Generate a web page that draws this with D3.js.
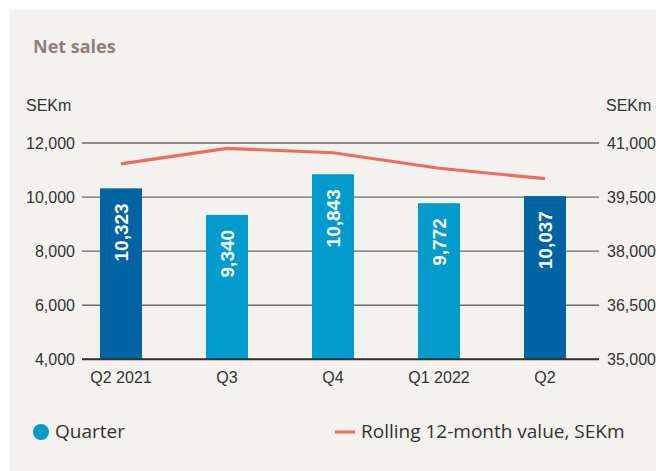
<!DOCTYPE html>
<html lang="en">
<head>
    <meta charset="UTF-8">
    <script src="https://d3js.org/d3.v7.min.js"></script>
    <title>Net sales</title>
    <style>
        body { margin: 0; background: #fff; }
    </style>
</head>
<body>
    <script>
        // data
        var quarters = ["Q2 2021", "Q3", "Q4", "Q1 2022", "Q2"];
        var quarterSales = [10323, 9340, 10843, 9772, 10037];
        var rolling12m = [40420, 40850, 40730, 40300, 40010];
        var leftTicks = [4000, 6000, 8000, 10000, 12000];
        var rightTicks = [35000, 36500, 38000, 39500, 41000];

        var W = 656, H = 471;
        var svg = d3.select("body").append("svg").attr("width", W).attr("height", H);

        // panel background
        svg.append("rect").attr("x", 10).attr("y", 10).attr("width", W - 10).attr("height", H - 10)
            .style("fill", "#f3f2ee");

        var plotTop = 143, plotBottom = 359.3, plotLeft = 82, plotRight = 599;

        var x = d3.scaleBand().domain(quarters).range([68, 598]).paddingInner(0.604).paddingOuter(0.302);
        var yL = d3.scaleLinear().domain([4000, 12000]).range([plotBottom, plotTop]);
        var yR = d3.scaleLinear().domain([35000, 41000]).range([plotBottom, plotTop]);

        var axisFont = "'Liberation Sans', Arial, sans-serif";
        var textFont = "'Open Sans', Lato, sans-serif";

        // title
        svg.append("text").attr("x", 33).attr("y", 53).text("Net sales")
            .style("font-family", textFont).style("font-weight", "bold").style("font-size", "18px")
            .style("fill", "#8c817b");

        // unit labels
        svg.append("text").attr("x", 26).attr("y", 111).text("SEKm")
            .style("font-family", axisFont).style("font-size", "16px").style("fill", "#333");
        svg.append("text").attr("x", 606).attr("y", 111).text("SEKm")
            .style("font-family", axisFont).style("font-size", "16px").style("fill", "#333");

        // gridlines
        svg.selectAll("line.grid").data(leftTicks).enter().append("line")
            .attr("class", "grid")
            .attr("x1", plotLeft).attr("x2", plotRight)
            .attr("y1", (d) => yL(d)).attr("y2", (d) => yL(d))
            .style("stroke", "#6b6b6b")
            .style("stroke-width", 1.3);

        // left axis labels
        svg.selectAll("text.ly").data(leftTicks).enter().append("text")
            .attr("class", "ly")
            .attr("x", 75).attr("y", (d) => yL(d) + 6)
            .attr("text-anchor", "end")
            .text((d) => d3.format(",")(d))
            .style("font-family", axisFont).style("font-size", "16px").style("fill", "#333");

        // right axis labels
        svg.selectAll("text.ry").data(rightTicks).enter().append("text")
            .attr("class", "ry")
            .attr("x", 607).attr("y", (d) => yR(d) + 6)
            .text((d) => d3.format(",")(d))
            .style("font-family", axisFont).style("font-size", "16px").style("fill", "#333");

        // bars
        svg.selectAll("rect.bar").data(quarterSales).enter().append("rect")
            .attr("class", "bar")
            .attr("x", (d, i) => x(quarters[i]))
            .attr("y", (d) => yL(d))
            .attr("width", x.bandwidth())
            .attr("height", (d) => plotBottom - yL(d))
            .style("fill", (d, i) => quarters[i].indexOf("Q2") == 0 ? "#0064a2" : "#009bcd");

        // bar labels
        svg.selectAll("text.bl").data(quarterSales).enter().append("text")
            .attr("class", "bl")
            .attr("transform", (d, i) => "translate(" + (x(quarters[i]) + x.bandwidth() / 2 + 7) + "," + (yL(d) + 15) + ") rotate(-90)")
            .attr("text-anchor", "end")
            .text((d) => d3.format(",")(d))
            .style("font-family", axisFont).style("font-weight", "bold").style("font-size", "19px")
            .style("fill", "#fff");

        // baseline over bars
        svg.append("line").attr("x1", plotLeft).attr("x2", plotRight).attr("y1", plotBottom).attr("y2", plotBottom)
            .style("stroke", "#333").style("stroke-width", 2);

        // x labels
        svg.selectAll("text.xl").data(quarters).enter().append("text")
            .attr("class", "xl")
            .attr("x", (d) => x(d) + x.bandwidth() / 2)
            .attr("y", 383)
            .attr("text-anchor", "middle")
            .text((d) => d)
            .style("font-family", axisFont).style("font-size", "16px").style("fill", "#333");

        // rolling line
        var line = d3.line()
            .x((d, i) => x(quarters[i]) + x.bandwidth() / 2)
            .y((d) => yR(d));
        svg.append("path").datum(rolling12m).attr("d", line)
            .style("fill", "none").style("stroke", "#ef6b5e").style("stroke-width", 3.2);

        // legend
        svg.append("circle").attr("cx", 41).attr("cy", 432).attr("r", 8).style("fill", "#009bcd");
        svg.append("text").attr("x", 55).attr("y", 438).text("Quarter")
            .style("font-family", textFont).style("font-size", "19px").style("fill", "#333");
        svg.append("line").attr("x1", 335).attr("x2", 355).attr("y1", 432).attr("y2", 432)
            .style("stroke", "#ef6b5e").style("stroke-width", 3);
        svg.append("text").attr("x", 361).attr("y", 438).text("Rolling 12-month value, SEKm")
            .style("font-family", textFont).style("font-size", "19px").style("fill", "#333");
    </script>
</body>
</html>
